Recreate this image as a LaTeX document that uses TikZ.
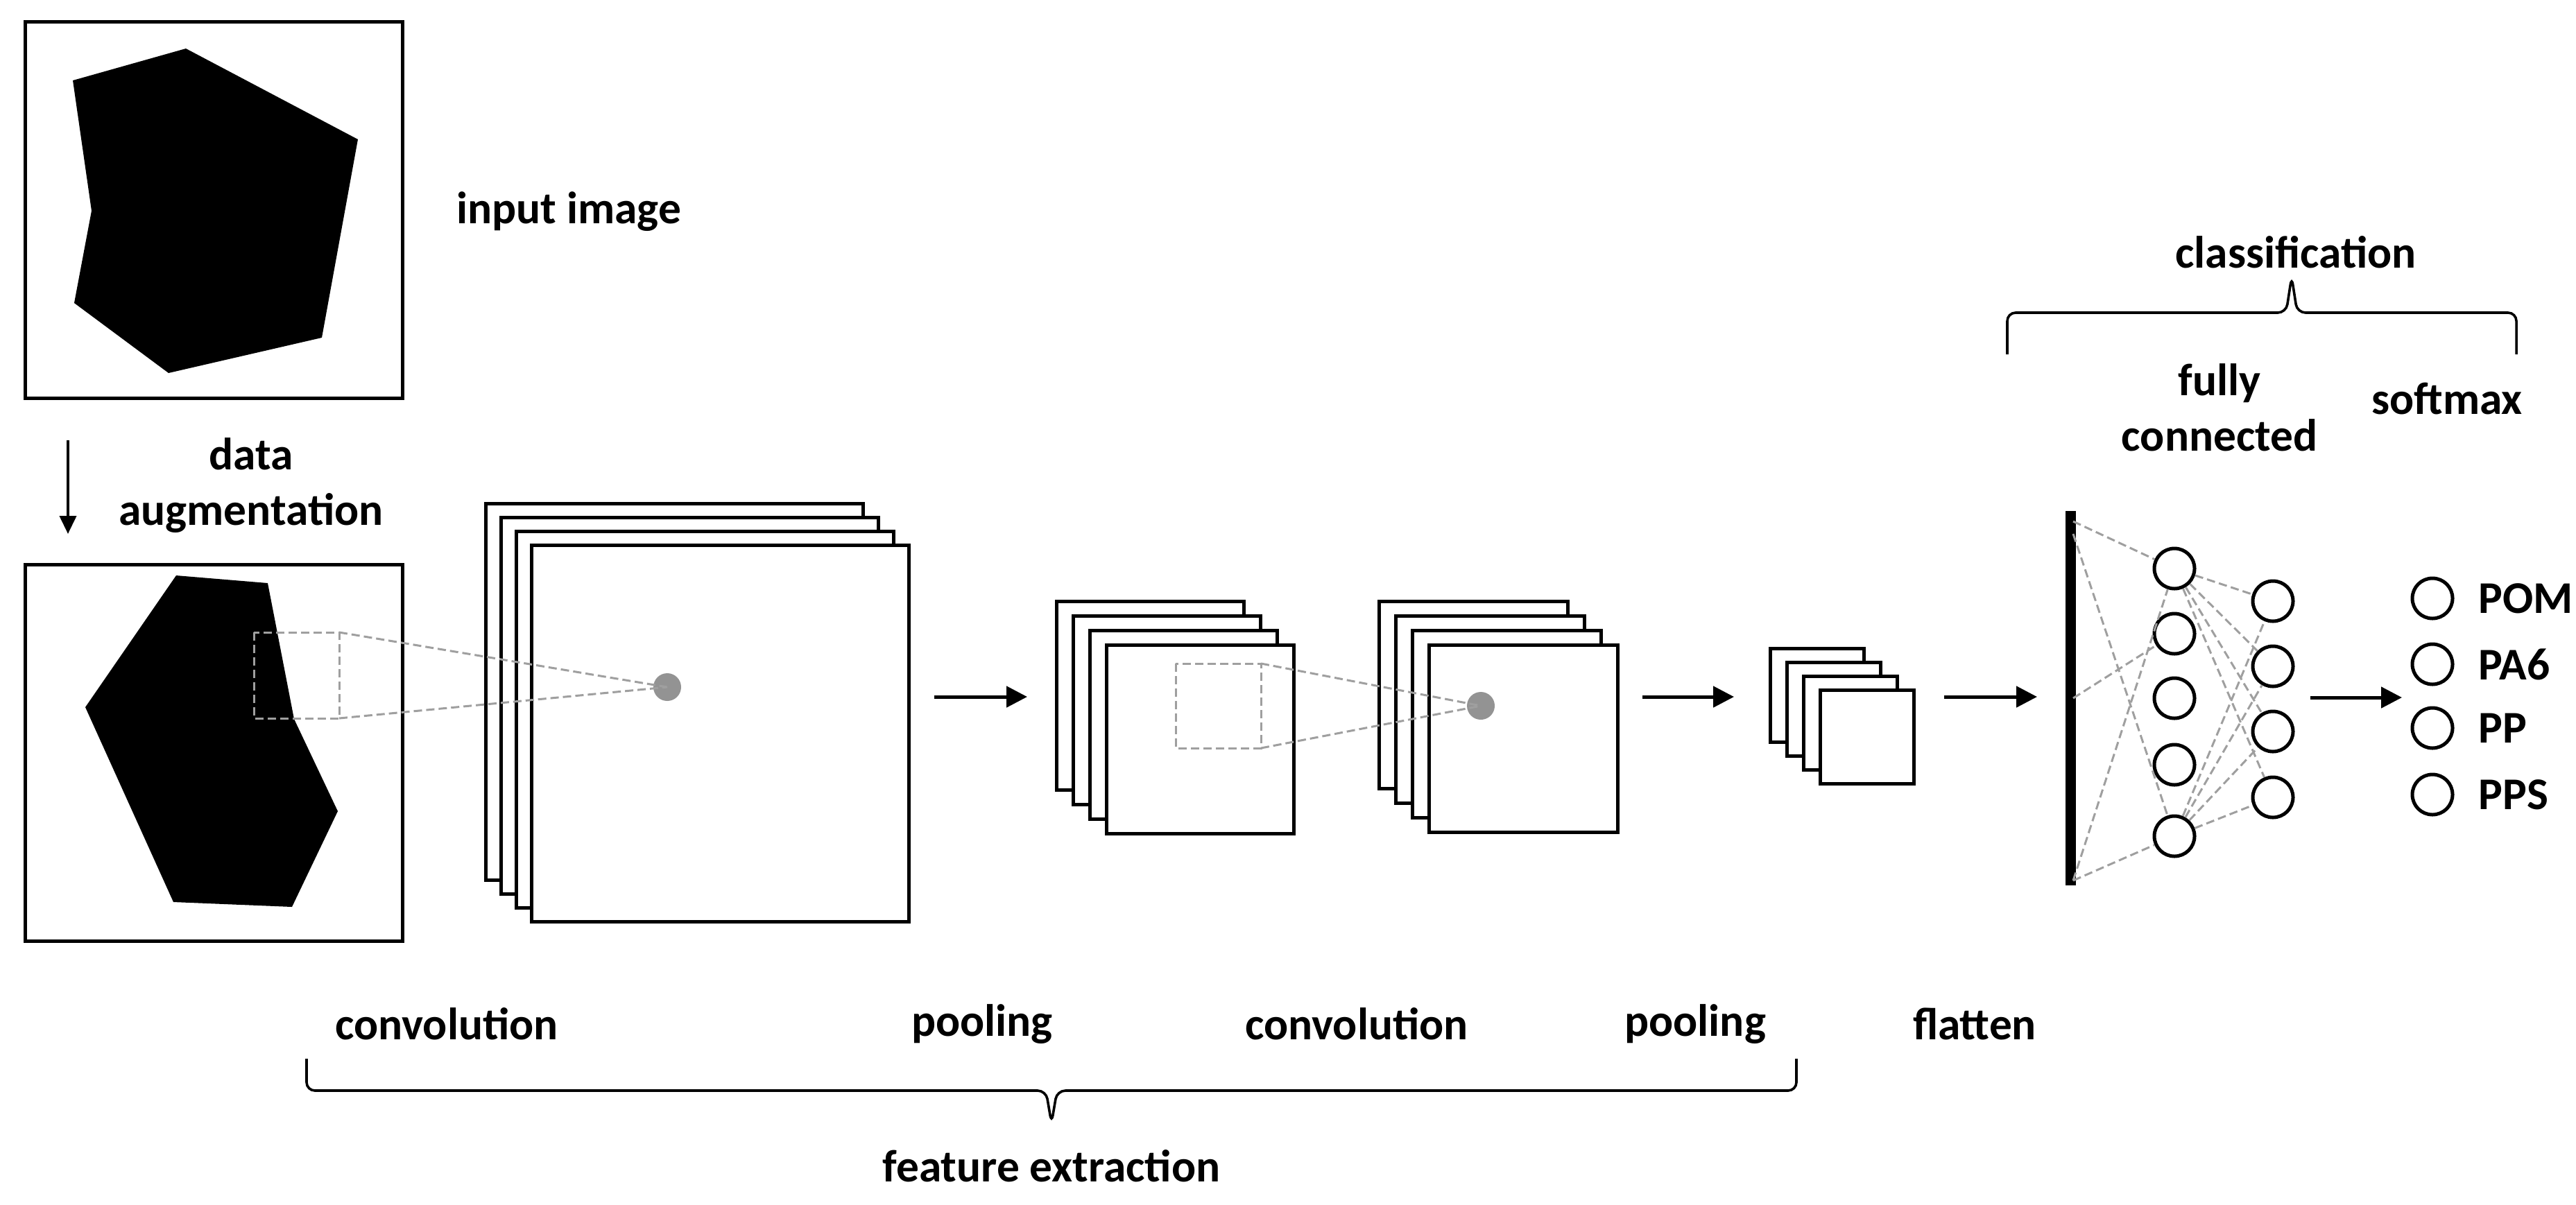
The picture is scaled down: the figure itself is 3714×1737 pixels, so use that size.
\documentclass[tikz,border=0pt]{standalone}
\usepackage{fontspec}
\setmainfont{Carlito}
\usetikzlibrary{arrows.meta}
\begin{document}
\begin{tikzpicture}[x=0.5pt,y=-0.5pt,
  lbl/.style={font=\fontsize{32.7}{40}\selectfont\bfseries,align=center,inner sep=0pt},
  frame/.style={draw,line width=2.5pt,fill=white},
  box/.style={draw,line width=2.5pt},
  dashg/.style={draw=gray!75,line width=1.5pt,dash pattern=on 6pt off 3pt},
  arr/.style={line width=2.5pt,-{Triangle[length=15pt,width=15pt]}},
  neuron/.style={circle,draw,line width=2.5pt,minimum size=29pt,inner sep=0pt},
  dot/.style={circle,fill=gray!85,minimum size=20pt,inner sep=0pt},
  br/.style={line width=1.8pt,rounded corners=6pt}]
\useasboundingbox (0,0) rectangle (3714,1737);
% input image
\draw[box] (36,31) rectangle (580,574);
\fill (105,116)--(268,70)--(516,201)--(464,487)--(243,538)--(107,437)--(132,304)--cycle;
\node[lbl] (inp) at (820,305) {input image};
\coordinate (a1) at (98,635); \coordinate (a2) at (98,770);
\draw[line width=2pt,-{Triangle[length=13pt,width=12pt]}] (a1)--(a2);
\node[lbl] at (362,700) {data\\augmentation};
% augmented image
\draw[box] (36,814) rectangle (580,1357);
\fill (254,830)--(386,841)--(424,1037)--(487,1170)--(421,1308)--(250,1301)--(123,1020)--cycle;
% stack 1
\foreach \i in {3,2,1,0}
  \draw[frame] (766-22*\i,786-20*\i) rectangle (1310-22*\i,1329-20*\i);
\node[dot] (d1) at (962,991) {};
\draw[dashg] (366,912) rectangle (489,1036);
\coordinate (k1) at (489,912); \coordinate (k2) at (489,1036);
\draw[dashg] (k1)--(d1.center) (k2)--(d1.center);
% arrow
\coordinate (p1) at (1347,1005); \coordinate (p2) at (1481,1005);
\draw[arr] (p1)--(p2);
% stack 2
\foreach \i in {3,2,1,0}
  \draw[frame] (1595-24*\i,930-21*\i) rectangle (1865-24*\i,1202-21*\i);
% stack 3
\foreach \i in {3,2,1,0}
  \draw[frame] (2060-24*\i,930-21*\i) rectangle (2332-24*\i,1200-21*\i);
\node[dot] (d2) at (2135,1018) {};
\draw[dashg] (1695,957) rectangle (1818,1079);
\coordinate (k3) at (1818,957); \coordinate (k4) at (1818,1079);
\draw[dashg] (k3)--(d2.center) (k4)--(d2.center);
\coordinate (p3) at (2368,1005); \coordinate (p4) at (2500,1005);
\draw[arr] (p3)--(p4);
% stack 4
\foreach \i in {3,2,1,0}
  \draw[frame] (2624-24*\i,995-20*\i) rectangle (2759-24*\i,1130-20*\i);
\coordinate (p5) at (2803,1005); \coordinate (p6) at (2937,1005);
\draw[arr] (p5)--(p6);
% flatten bar
\draw[line width=7.5pt] (2985,737)--(2985,1277);
\coordinate (bA) at (2989,752); \coordinate (bB) at (2989,770);
\coordinate (bC) at (2989,1007); \coordinate (bD) at (2989,1270);
% neurons
\foreach \y [count=\n] in {820,914,1007,1103,1206} \node[neuron] (c\n) at (3135,\y) {};
\foreach \y [count=\n] in {867,961,1055,1150} \node[neuron] (e\n) at (3277,\y) {};
\foreach \y/\t [count=\n] in {863/POM,958/PA6,1050/PP,1146/PPS} {
  \node[neuron] (o\n) at (3507,\y) {};
  \node[lbl,anchor=west] at (3573,\y) {\t};
}
\draw[dashg] (bA)--(c1) (bB)--(c5) (bC)--(c2) (bD)--(c1) (bD)--(c5);
\foreach \n in {1,2,3,4} \draw[dashg] (c1)--(e\n) (c5)--(e\n);
\coordinate (p7) at (3331,1006); \coordinate (p8) at (3463,1006);
\draw[arr] (p7)--(p8);
% labels
\node[lbl] at (3200,588) {fully\\connected};
\node[lbl] at (3528,575) {softmax};
\node[lbl] at (3310,364) {classification};
\draw[br] (2894,511)--(2894,451)--(3296,451)--(3304,399)--(3312,451)--(3628,451)--(3628,511);
\node[lbl] at (644,1477) {convolution};
\node[lbl] at (1416,1477) {pooling};
\node[lbl] at (1956,1477) {convolution};
\node[lbl] at (2444,1477) {pooling};
\node[lbl] at (2847,1477) {flatten};
\draw[br] (442,1527)--(442,1573)--(1508,1573)--(1516,1620)--(1524,1573)--(2590,1573)--(2590,1527);
\node[lbl] at (1516,1682) {feature extraction};
\end{tikzpicture}
\end{document}
